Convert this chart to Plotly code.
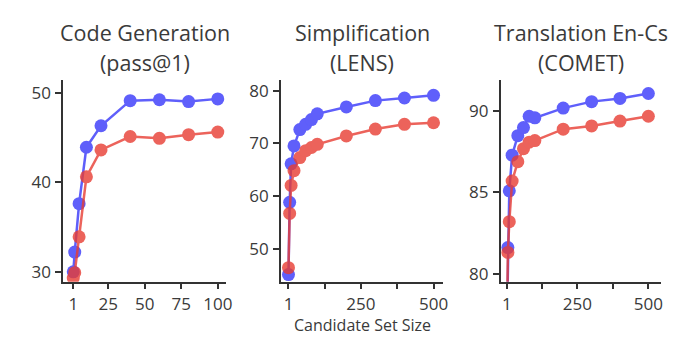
import plotly.graph_objects as go

# ---- data ----
sizes_code = [1, 2, 5, 10, 20, 40, 60, 80, 100]
code_blue = [30.0, 32.2, 37.6, 43.9, 46.3, 49.1, 49.2, 49.0, 49.3]
code_red = [29.3, 29.9, 33.9, 40.6, 43.6, 45.1, 44.9, 45.3, 45.6]

sizes_long = [1, 5, 10, 20, 40, 60, 80, 100, 200, 300, 400, 500]
simp_blue = [45.1, 58.8, 66.1, 69.5, 72.6, 73.6, 74.5, 75.6, 76.9, 78.1, 78.6, 79.1]
simp_red = [46.4, 56.7, 62.0, 64.8, 67.3, 68.6, 69.2, 69.8, 71.4, 72.7, 73.6, 73.9]

trans_blue = [76.0, 81.6, 85.1, 87.3, 88.5, 89.0, 89.7, 89.6, 90.2, 90.6, 90.8, 91.1]
trans_red = [75.5, 81.3, 83.2, 85.7, 86.9, 87.7, 88.1, 88.2, 88.9, 89.1, 89.4, 89.7]

titles = [["Code Generation", "(pass@1)"],
          ["Simplification", "(LENS)"],
          ["Translation En-Cs", "(COMET)"]]
x_title = "Candidate Set Size"

code_xticks = [1, 25, 50, 75, 100]
code_xtext = ["1", "25", "50", "75", "100"]
long_xticks = [1, 125, 250, 375, 500]
long_xtext = ["1", "", "250", "", "500"]
code_yticks = [30, 40, 50]
simp_yticks = [50, 60, 70, 80]
trans_yticks = [80, 85, 90]

# ---- style ----
W, H = 682, 340
BLUE = "rgb(55,55,250)"
RED = "rgb(232,60,50)"
TXT = "#3a3a3a"
FONT = "Open Sans"

fig = go.Figure()

panels = [
    (sizes_code, code_blue, code_red, "x", "y"),
    (sizes_long, simp_blue, simp_red, "x2", "y2"),
    (sizes_long, trans_blue, trans_red, "x3", "y3"),
]
for xs, b, r, xa, ya in panels:
    for ys, col in ((b, BLUE), (r, RED)):
        fig.add_trace(go.Scatter(
            x=xs, y=ys, mode="lines+markers", xaxis=xa, yaxis=ya,
            line=dict(color=col, width=2.5),
            marker=dict(color=col, size=13),
            opacity=0.8, showlegend=False, hoverinfo="skip"))

px_dom = [(64, 228), (284, 448), (506, 668)]
y_top, y_bot = 80, 284
ydom = [1 - y_bot / H, 1 - y_top / H]
xranges = [[-5.8, 105.4], [-24.5, 534], [-19.9, 545]]
yranges = [[28.9, 51.4], [43.75, 82.0], [79.5, 91.93]]
xt = [(code_xticks, code_xtext), (long_xticks, long_xtext), (long_xticks, long_xtext)]
yt = [code_yticks, simp_yticks, trans_yticks]

axis_common = dict(showline=True, linecolor="#333", linewidth=1.8,
                   ticks="outside", tickwidth=1.5, tickcolor="#333",
                   showgrid=False, zeroline=False,
                   tickfont=dict(family=FONT, size=17, color=TXT))

layout = {}
for i in range(3):
    sfx = "" if i == 0 else str(i + 1)
    xa = "x" + sfx
    ya = "y" + sfx
    layout["xaxis" + sfx] = dict(domain=[px_dom[i][0] / W, px_dom[i][1] / W],
                                 range=xranges[i], anchor=ya, ticklen=5,
                                 ticklabelstandoff=1,
                                 tickvals=xt[i][0], ticktext=xt[i][1], **axis_common)
    layout["yaxis" + sfx] = dict(domain=ydom, range=yranges[i], anchor=xa, ticklen=6,
                                 tickvals=yt[i], ticklabelstandoff=1, **axis_common)

annotations = []
for i, (l1, l2) in enumerate(titles):
    cx = (px_dom[i][0] + px_dom[i][1]) / 2 / W
    for line, yc in ((l1, 32), (l2, 62)):
        annotations.append(dict(text=line, x=cx, y=1 - yc / H, xref="paper", yref="paper",
                                showarrow=False, xanchor="center", yanchor="middle",
                                font=dict(family=FONT, size=21.5, color=TXT)))
annotations.append(dict(text=x_title, x=366 / W, y=1 - 328 / H, xref="paper", yref="paper",
                        showarrow=False, xanchor="center", yanchor="middle",
                        font=dict(family=FONT, size=16, color=TXT)))

fig.update_layout(width=W, height=H, margin=dict(l=0, r=0, t=0, b=0),
                  plot_bgcolor="white", paper_bgcolor="white",
                  annotations=annotations, **layout)

fig.write_html("out.html", config={"displayModeBar": False},
               post_script="document.body.style.margin='0px';")
